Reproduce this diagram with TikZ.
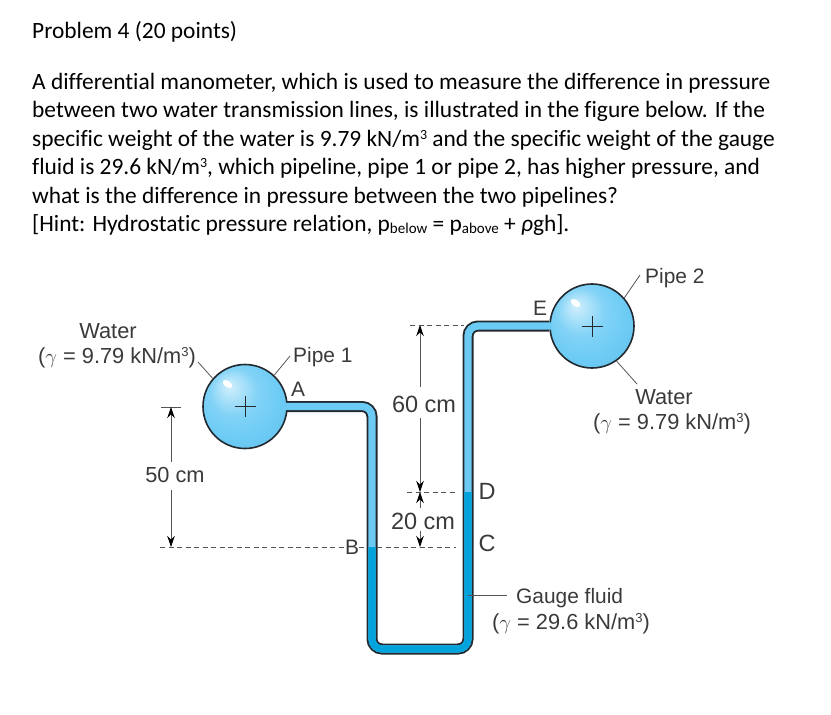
\documentclass[tikz,border=0pt]{standalone}
\usepackage{fontspec}
\setmainfont[Ligatures=NoCommon]{Carlito}
\newfontfamily\figfont{Liberation Sans}
\usetikzlibrary{arrows.meta}
\definecolor{pipelight}{HTML}{6CCBF5}
\definecolor{pipedark}{HTML}{00A3DB}
\definecolor{edgeblack}{HTML}{222A30}
\definecolor{figtext}{HTML}{3A3A3A}
\definecolor{dimgray}{HTML}{555555}
\pgfdeclareradialshading{bulbshade}{\pgfpoint{-0.35cm}{0.45cm}}{%
  color(0cm)=(white!70!pipelight);
  color(0.5cm)=(pipelight!85!white);
  color(0.9cm)=(pipelight);
  color(1.3cm)=(pipelight!94!black);
  color(1.6cm)=(pipelight!85!black)}
\tikzset{
  bodyline/.style={anchor=base west, inner sep=0pt, font=\fontsize{23.4}{28}\selectfont, text=black},
  figlabel/.style={inner sep=0pt, font=\figfont\fontsize{20.9}{24}\selectfont, text=figtext},
  gammalabel/.style={figlabel, font=\figfont\fontsize{21.8}{24}\selectfont},
  biglabel/.style={figlabel, font=\figfont\fontsize{23.5}{24}\selectfont},
  bulb/.style={circle, draw=edgeblack, line width=1.6pt, minimum size=84pt, inner sep=0pt, shading=bulbshade},
  leader/.style={draw=dimgray, line width=0.8pt},
  dimline/.style={draw=dimgray, line width=0.8pt},
  dimarrow/.style={draw=dimgray, line width=0.8pt, -{Stealth[length=11pt,width=7.5pt,color=black]}},
  dashline/.style={draw=dimgray, line width=0.8pt, dash pattern=on 5pt off 3.5pt},
  pipeedge/.style={draw=edgeblack, line width=11pt, rounded corners=10pt},
  pipefluid/.style={line width=7.2pt, rounded corners=10pt},
}
\newcommand{\bodycube}{\raisebox{0.62ex}{\fontsize{14}{14}\selectfont 3}}
\newcommand{\gammatext}[1]{($\gamma$ = #1 kN/m\raisebox{0.6ex}{\fontsize{13}{13}\selectfont 3})}

\begin{document}
\begin{tikzpicture}[x=1pt,y=-1pt]
  \useasboundingbox (0,0) rectangle (831,715);

  % problem text
  \node[bodyline] (title) at (32,38) {Problem 4 (20 points)};
  \node[bodyline] (line1) at (32,89) {A differential manometer, which is used to measure the difference in pressure};
  \node[bodyline] (line2) at (32,117.5) {between two water transmission lines, is illustrated in the figure below. If the};
  \node[bodyline] (line3) at (32,146) {specific weight of the water is 9.79 kN/m\bodycube{} and the specific weight of the gauge};
  \node[bodyline] (line4) at (32,174.5) {fluid is 29.6 kN/m\bodycube, which pipeline, pipe 1 or pipe 2, has higher pressure, and};
  \node[bodyline] (line5) at (32,203) {what is the difference in pressure between the two pipelines?};
  \node[bodyline] (line6) at (32,231.5) {[Hint: Hydrostatic pressure relation, p\raisebox{-0.2ex}{\fontsize{15}{15}\selectfont below} = p\raisebox{-0.2ex}{\fontsize{15}{15}\selectfont above} + \textit{ρ}gh].};

  \coordinate (pipeAin) at (287,406.5);
  \coordinate (pipeLtop) at (372,406.5);
  \coordinate (pipeLbot) at (372,649);
  \coordinate (pipeRbot) at (468,649);
  \coordinate (pipeRtop) at (468,326);
  \coordinate (pipeEin) at (549,326);
  \coordinate (levelB) at (372,547);
  \coordinate (levelD) at (468,492);

  % pipe and bulbs
  \draw[pipeedge] (pipeAin) -- (pipeLtop) -- (pipeLbot) -- (pipeRbot) -- (pipeRtop) -- (pipeEin);
  \node[bulb] (bulbA) at (245,406.5) {};
  \node[bulb] (bulbE) at (592,326) {};
  \draw[pipefluid, draw=pipelight] (284,406.5) -- (pipeLtop) -- (pipeLbot) -- (pipeRbot) -- (pipeRtop) -- (552,326);
  \draw[pipefluid, draw=pipedark] (levelB) -- (pipeLbot) -- (pipeRbot) -- (levelD);

  % plus marks and highlights
  \draw[draw=edgeblack, line width=0.7pt] (bulbA.center) +(-10.5,0) -- +(10.5,0) +(0,-10.5) -- +(0,10.5);
  \draw[draw=edgeblack, line width=0.7pt] (bulbE.center) +(-10.5,0) -- +(10.5,0) +(0,-10.5) -- +(0,10.5);
  \fill[white] (227.5,384) ellipse [x radius=5.5pt, y radius=3pt, rotate=-35];
  \fill[white] (575.5,303) ellipse [x radius=5.5pt, y radius=3pt, rotate=-35];

  % left labels
  \node[gammalabel] (waterA) at (108,331) {Water};
  \node[gammalabel] (gammaA) at (117,358) {\gammatext{9.79}};
  \coordinate (leadA) at (198,362);
  \draw[leader] (leadA) -- (bulbA.139);
  \node[figlabel, anchor=west] (pipeone) at (293,357) {Pipe 1};
  \coordinate (leadB) at (290,356);
  \draw[leader] (leadB) -- (bulbA.47);
  \node[figlabel] (labelA) at (298,389) {A};

  % right labels
  \node[figlabel, anchor=west] (pipetwo) at (645,278) {Pipe 2};
  \coordinate (leadC) at (640,275);
  \draw[leader] (leadC) -- (bulbE.41);
  \node[figlabel] (labelE) at (540,308) {E};
  \node[gammalabel] (waterE) at (664,397) {Water};
  \node[gammalabel] (gammaE) at (672,424) {\gammatext{9.79}};
  \coordinate (leadD) at (637,384);
  \draw[leader] (leadD) -- (bulbE.-55);

  % 50 cm
  \coordinate (barL) at (161,407);
  \coordinate (barR) at (181,407);
  \coordinate (tipTop) at (171,407);
  \coordinate (tipBot) at (171,547);
  \node[gammalabel] (dimfifty) at (175,475) {50 cm};
  \draw[dimline] (barL) -- (barR);
  \draw[dimarrow] (171,462) -- (tipTop);
  \draw[dimarrow] (171,490) -- (tipBot);

  % level lines
  \node[figlabel] (labelB) at (352,547) {B};
  \node[biglabel] (labelC) at (487,543) {C};
  \node[biglabel] (labelD) at (487,491) {D};
  \coordinate (dashB) at (160,547);
  \coordinate (dashBr) at (367,547);
  \coordinate (dashC) at (377,547);
  \coordinate (dashCr) at (456,547);
  \coordinate (dashD) at (407,492);
  \coordinate (dashDr) at (456,492);
  \coordinate (dashE) at (410,325);
  \coordinate (dashEr) at (464,325);
  \draw[dashline] (dashB) -- (labelB.west);
  \draw[dashline] (labelB.east) -- (dashBr);
  \draw[dashline] (dashC) -- (dashCr);
  \draw[dashline] (dashD) -- (dashDr);
  \draw[dashline] (dashE) -- (dashEr);

  % 60 cm and 20 cm
  \node[biglabel] (dimsixty) at (424,404) {60 cm};
  \node[biglabel] (dimtwenty) at (423,521) {20 cm};
  \draw[dimarrow] (420,387) -- (420,325);
  \draw[dimarrow] (420,418) -- (420,492);
  \draw[dimarrow] (420,508) -- (420,492);
  \draw[dimarrow] (420,531) -- (420,547);

  % gauge fluid
  \node[figlabel, anchor=west] (gaugeA) at (516,598) {Gauge fluid};
  \node[gammalabel] (gaugeB) at (571,624) {\gammatext{29.6}};
  \coordinate (leadE) at (468,595);
  \draw[leader] (leadE) -- (507,595);
\end{tikzpicture}
\end{document}
